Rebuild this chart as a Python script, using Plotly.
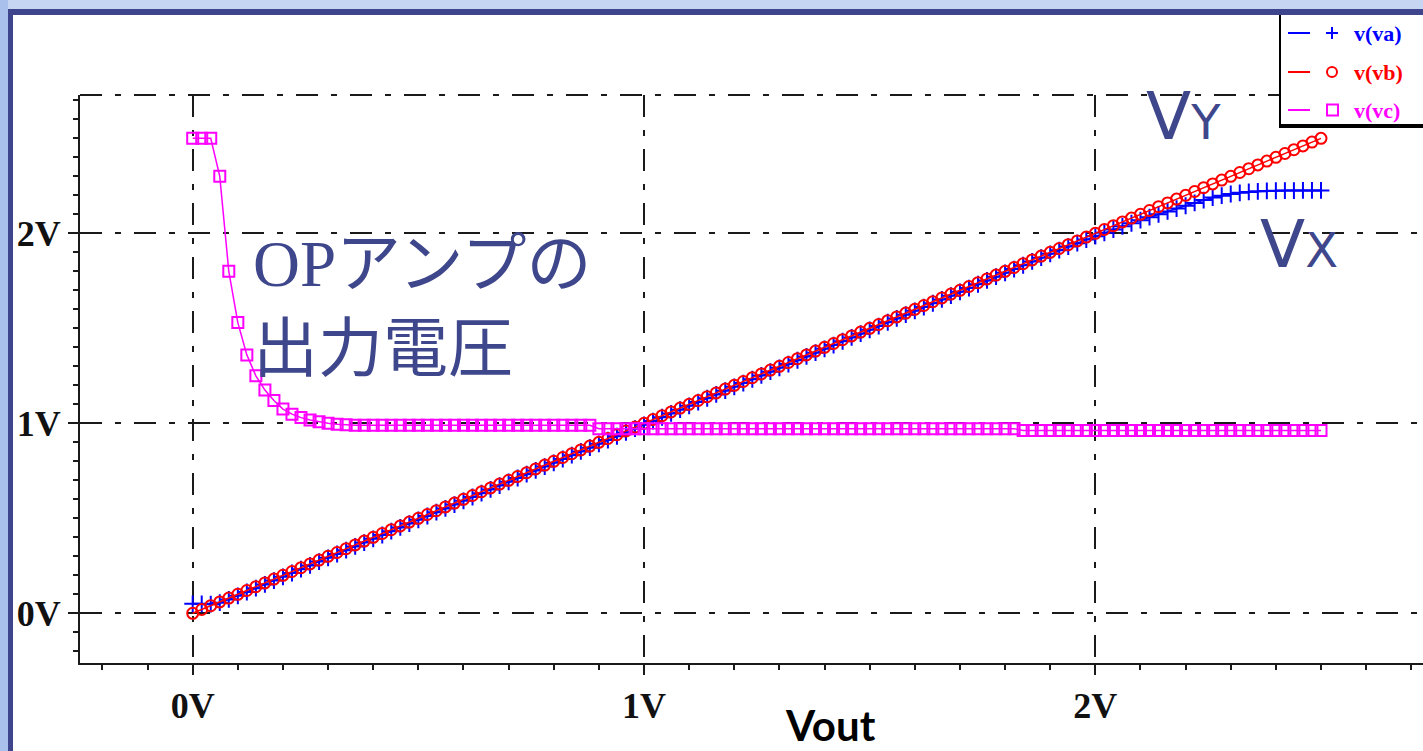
import plotly.graph_objects as go

# Sweep of the output voltage (V)
vout = [0.00, 0.02, 0.04, 0.06, 0.08, 0.10, 0.12, 0.14, 0.16, 0.18,
        0.20, 0.22, 0.24, 0.26, 0.28, 0.30, 0.32, 0.34, 0.36, 0.38,
        0.40, 0.42, 0.44, 0.46, 0.48, 0.50, 0.52, 0.54, 0.56, 0.58,
        0.60, 0.62, 0.64, 0.66, 0.68, 0.70, 0.72, 0.74, 0.76, 0.78,
        0.80, 0.82, 0.84, 0.86, 0.88, 0.90, 0.92, 0.94, 0.96, 0.98,
        1.00, 1.02, 1.04, 1.06, 1.08, 1.10, 1.12, 1.14, 1.16, 1.18,
        1.20, 1.22, 1.24, 1.26, 1.28, 1.30, 1.32, 1.34, 1.36, 1.38,
        1.40, 1.42, 1.44, 1.46, 1.48, 1.50, 1.52, 1.54, 1.56, 1.58,
        1.60, 1.62, 1.64, 1.66, 1.68, 1.70, 1.72, 1.74, 1.76, 1.78,
        1.80, 1.82, 1.84, 1.86, 1.88, 1.90, 1.92, 1.94, 1.96, 1.98,
        2.00, 2.02, 2.04, 2.06, 2.08, 2.10, 2.12, 2.14, 2.16, 2.18,
        2.20, 2.22, 2.24, 2.26, 2.28, 2.30, 2.32, 2.34, 2.36, 2.38,
        2.40, 2.42, 2.44, 2.46, 2.48, 2.50]

# v(va) : node X
v_va = [0.050, 0.050, 0.048, 0.056, 0.073, 0.092, 0.112, 0.132, 0.152, 0.172,
        0.192, 0.212, 0.232, 0.252, 0.272, 0.292, 0.312, 0.332, 0.352, 0.372,
        0.392, 0.412, 0.432, 0.452, 0.472, 0.492, 0.512, 0.532, 0.552, 0.572,
        0.592, 0.612, 0.632, 0.652, 0.672, 0.692, 0.712, 0.732, 0.752, 0.772,
        0.792, 0.812, 0.832, 0.852, 0.872, 0.892, 0.912, 0.932, 0.952, 0.972,
        0.992, 1.012, 1.032, 1.052, 1.072, 1.092, 1.112, 1.132, 1.152, 1.172,
        1.192, 1.212, 1.232, 1.252, 1.272, 1.292, 1.312, 1.332, 1.352, 1.372,
        1.392, 1.412, 1.432, 1.452, 1.472, 1.492, 1.512, 1.532, 1.552, 1.572,
        1.592, 1.612, 1.632, 1.652, 1.672, 1.692, 1.712, 1.732, 1.752, 1.772,
        1.792, 1.812, 1.832, 1.852, 1.872, 1.892, 1.911, 1.930, 1.948, 1.967,
        1.985, 2.003, 2.020, 2.037, 2.053, 2.069, 2.085, 2.100, 2.115, 2.130,
        2.145, 2.160, 2.175, 2.188, 2.198, 2.207, 2.213, 2.218, 2.221, 2.223,
        2.224, 2.225, 2.225, 2.226, 2.226, 2.226]

# v(vb) : node Y
v_vb = [0.00, 0.02, 0.04, 0.06, 0.08, 0.10, 0.12, 0.14, 0.16, 0.18,
        0.20, 0.22, 0.24, 0.26, 0.28, 0.30, 0.32, 0.34, 0.36, 0.38,
        0.40, 0.42, 0.44, 0.46, 0.48, 0.50, 0.52, 0.54, 0.56, 0.58,
        0.60, 0.62, 0.64, 0.66, 0.68, 0.70, 0.72, 0.74, 0.76, 0.78,
        0.80, 0.82, 0.84, 0.86, 0.88, 0.90, 0.92, 0.94, 0.96, 0.98,
        1.00, 1.02, 1.04, 1.06, 1.08, 1.10, 1.12, 1.14, 1.16, 1.18,
        1.20, 1.22, 1.24, 1.26, 1.28, 1.30, 1.32, 1.34, 1.36, 1.38,
        1.40, 1.42, 1.44, 1.46, 1.48, 1.50, 1.52, 1.54, 1.56, 1.58,
        1.60, 1.62, 1.64, 1.66, 1.68, 1.70, 1.72, 1.74, 1.76, 1.78,
        1.80, 1.82, 1.84, 1.86, 1.88, 1.90, 1.92, 1.94, 1.96, 1.98,
        2.00, 2.02, 2.04, 2.06, 2.08, 2.10, 2.12, 2.14, 2.16, 2.18,
        2.20, 2.22, 2.24, 2.26, 2.28, 2.30, 2.32, 2.34, 2.36, 2.38,
        2.40, 2.42, 2.44, 2.46, 2.48, 2.50]

# v(vc) : op-amp output
v_vc = [2.500, 2.500, 2.500, 2.300, 1.800, 1.530, 1.360, 1.250, 1.175, 1.120,
        1.075, 1.048, 1.030, 1.017, 1.008, 1.000, 0.995, 0.992, 0.990, 0.990,
        0.990, 0.990, 0.990, 0.990, 0.990, 0.990, 0.990, 0.990, 0.990, 0.990,
        0.990, 0.990, 0.990, 0.990, 0.990, 0.990, 0.990, 0.990, 0.990, 0.990,
        0.990, 0.990, 0.990, 0.990, 0.990, 0.972, 0.972, 0.972, 0.972, 0.972,
        0.972, 0.972, 0.972, 0.972, 0.972, 0.972, 0.972, 0.972, 0.972, 0.972,
        0.972, 0.972, 0.972, 0.972, 0.972, 0.972, 0.972, 0.972, 0.972, 0.972,
        0.972, 0.972, 0.972, 0.972, 0.972, 0.972, 0.972, 0.972, 0.972, 0.972,
        0.972, 0.972, 0.972, 0.972, 0.972, 0.972, 0.972, 0.972, 0.972, 0.972,
        0.972, 0.972, 0.962, 0.962, 0.962, 0.962, 0.962, 0.962, 0.962, 0.962,
        0.962, 0.962, 0.962, 0.962, 0.962, 0.962, 0.962, 0.962, 0.962, 0.962,
        0.962, 0.962, 0.962, 0.962, 0.962, 0.962, 0.962, 0.962, 0.962, 0.962,
        0.962, 0.962, 0.962, 0.962, 0.962, 0.962]

tick_vals = [0, 1, 2]
tick_text = ["0V", "1V", "2V"]
legend_names = ["v(va)", "v(vb)", "v(vc)"]

BLUE = "#0000ff"
RED = "#ff0000"
MAGENTA = "#ff00ff"
NAVY = "#3f478c"
GRID_DASH = "22px,13px,6px,13px"

W, H = 1423, 751
ML, MR, MT, MB = 80, 0, 95, 88
PW, PH = W - ML - MR, H - MT - MB


def px(x):
    return (x - ML) / PW


def py(y):
    return (H - MB - y) / PH


fig = go.Figure()

fig.add_trace(go.Scatter(
    x=vout, y=v_va, mode="lines+markers", name=legend_names[0],
    line=dict(color=BLUE, width=1.5),
    marker=dict(symbol="cross-thin-open", size=12, line=dict(color=BLUE, width=2)),
))
fig.add_trace(go.Scatter(
    x=vout, y=v_vb, mode="lines+markers", name=legend_names[1],
    line=dict(color=RED, width=1.5),
    marker=dict(symbol="circle-open", size=11, color=RED, line=dict(color=RED, width=2)),
))
fig.add_trace(go.Scatter(
    x=vout, y=v_vc, mode="lines+markers", name=legend_names[2],
    line=dict(color=MAGENTA, width=1.5),
    marker=dict(symbol="square-open", size=11, color=MAGENTA, line=dict(color=MAGENTA, width=2)),
))

axis_common = dict(
    showline=True, linecolor="#1a1a1a", linewidth=2,
    ticks="outside", ticklen=10, tickwidth=2, tickcolor="#1a1a1a",
    tickmode="array", tickvals=tick_vals, ticktext=tick_text,
    tickfont=dict(family="Liberation Serif", size=36, color="#111", weight="bold"),
    showgrid=True, gridcolor="#1a1a1a", gridwidth=2, griddash=GRID_DASH,
    zeroline=False, fixedrange=True,
    minor=dict(tickmode="linear", tick0=0, dtick=0.1, ticks="outside",
               ticklen=5, tickwidth=2, tickcolor="#1a1a1a", showgrid=False),
)

fig.update_xaxes(range=[-0.2497, 2.726], **axis_common)
fig.update_yaxes(range=[-0.2616, 2.728], **axis_common)

shapes = []
# Plot frame top edge, dash-dot like the grid
shapes.append(dict(type="line", xref="paper", yref="paper", x0=0, x1=1, y0=1, y1=1,
                   line=dict(color="#1a1a1a", width=2, dash=GRID_DASH)))

# Legend box
lx0, lx1, ly0, ly1 = 1280, 1440, 10, 126
shapes.append(dict(type="rect", xref="paper", yref="paper",
                   x0=px(lx0), x1=px(lx1), y0=py(ly1), y1=py(ly0),
                   fillcolor="white", line=dict(color="black", width=2)))
shapes.append(dict(type="line", xref="paper", yref="paper",
                   x0=px(lx0 - 1), x1=px(lx1), y0=py(ly1), y1=py(ly1),
                   line=dict(color="black", width=4)))

rows = [33, 72, 110]
colors = [BLUE, RED, MAGENTA]
for yy, c in zip(rows, colors):
    shapes.append(dict(type="line", xref="paper", yref="paper",
                       x0=px(1288), x1=px(1310), y0=py(yy), y1=py(yy),
                       line=dict(color=c, width=2)))
# + glyph
shapes.append(dict(type="line", xref="paper", yref="paper",
                   x0=px(1326), x1=px(1338), y0=py(rows[0]), y1=py(rows[0]),
                   line=dict(color=BLUE, width=2)))
shapes.append(dict(type="line", xref="paper", yref="paper",
                   x0=px(1332), x1=px(1332), y0=py(rows[0] + 6), y1=py(rows[0] - 6),
                   line=dict(color=BLUE, width=2)))
# o glyph
shapes.append(dict(type="circle", xref="paper", yref="paper",
                   x0=px(1327), x1=px(1337), y0=py(rows[1] + 5), y1=py(rows[1] - 5),
                   line=dict(color=RED, width=2)))
# square glyph
shapes.append(dict(type="rect", xref="paper", yref="paper",
                   x0=px(1327), x1=px(1338), y0=py(rows[2] + 5.5), y1=py(rows[2] - 5.5),
                   line=dict(color=MAGENTA, width=2)))

# Slide border
shapes.append(dict(type="rect", xref="paper", yref="paper", layer="above",
                   x0=px(0), x1=px(W), y0=py(0), y1=py(9),
                   fillcolor="#c6d5f1", line=dict(width=0)))
shapes.append(dict(type="rect", xref="paper", yref="paper", layer="above",
                   x0=px(0), x1=px(8), y0=py(H), y1=py(0),
                   fillcolor="#a9c0ec", line=dict(width=0)))
shapes.append(dict(type="rect", xref="paper", yref="paper", layer="above",
                   x0=px(8), x1=px(W), y0=py(9), y1=py(15),
                   fillcolor="#3f458c", line=dict(width=0)))
shapes.append(dict(type="rect", xref="paper", yref="paper", layer="above",
                   x0=px(8), x1=px(13), y0=py(H), y1=py(9),
                   fillcolor="#3f458c", line=dict(width=0)))

annotations = []
for yy, c, name in zip(rows, colors, legend_names):
    annotations.append(dict(
        xref="paper", yref="paper", x=px(1352), y=py(yy), xanchor="left", yanchor="middle",
        text=name, showarrow=False,
        font=dict(family="Liberation Serif", size=22, color=c, weight="bold")))

annotations.append(dict(
    xref="paper", yref="paper", x=px(251), y=py(300), xanchor="left", yanchor="middle",
    align="left",
    text="<span style='font-family:Liberation Serif'>OP</span>アンプの<br>出力電圧",
    showarrow=False,
    font=dict(family="Noto Sans CJK JP", size=65, color=NAVY)))
annotations.append(dict(
    xref="paper", yref="paper", x=px(1144), y=py(117), xanchor="left", yanchor="middle",
    text="V<span style='font-size:48px'>Y</span>", showarrow=False,
    font=dict(family="DejaVu Sans", size=66, color=NAVY)))
annotations.append(dict(
    xref="paper", yref="paper", x=px(1258), y=py(244), xanchor="left", yanchor="middle",
    text="V<span style='font-size:48px'>X</span>", showarrow=False,
    font=dict(family="DejaVu Sans", size=66, color=NAVY)))
annotations.append(dict(
    xref="paper", yref="paper", x=px(830), y=py(725), xanchor="center", yanchor="middle",
    text="Vout", showarrow=False,
    font=dict(family="Lato", size=42, color="black", weight="bold")))

fig.update_layout(
    width=W, height=H,
    margin=dict(l=ML, r=MR, t=MT, b=MB),
    paper_bgcolor="white", plot_bgcolor="rgba(0,0,0,0)",
    showlegend=False,
    shapes=shapes, annotations=annotations,
)

fig.write_html("out.html", config={"displayModeBar": False})
